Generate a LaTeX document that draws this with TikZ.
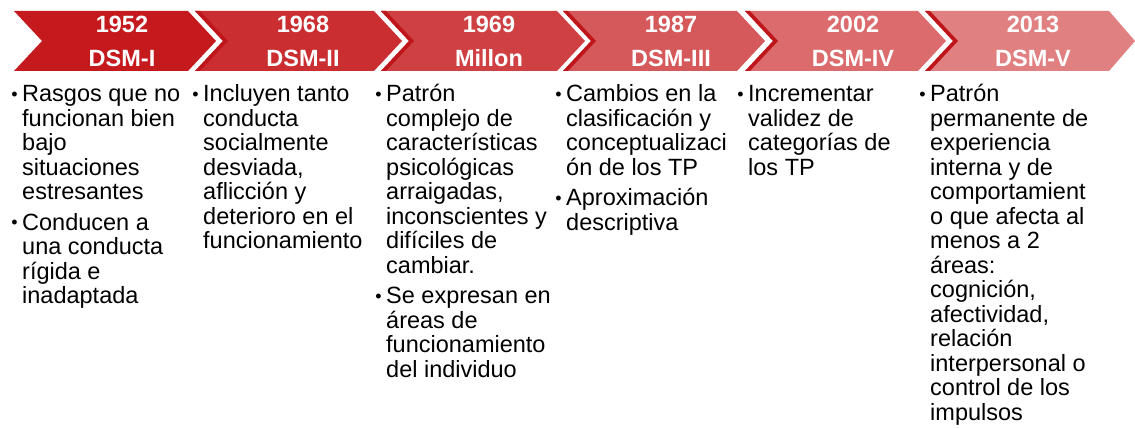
\documentclass[tikz,border=0pt]{standalone}
\usepackage{fontspec}
\setmainfont{Liberation Sans}
\definecolor{c1}{RGB}{196,26,30}
\definecolor{c2}{RGB}{203,46,49}
\definecolor{c3}{RGB}{207,64,67}
\definecolor{c4}{RGB}{213,88,90}
\definecolor{c5}{RGB}{219,107,108}
\definecolor{c6}{RGB}{224,128,129}
\definecolor{band}{RGB}{190,22,27}
\newcommand\bul{\vrule height 20pt depth 0pt width 0pt\llap{\fontsize{18}{18}\selectfont\raisebox{1.5pt}{•}\hspace{4.5pt}}}
\tikzset{
  hdr/.style={text=white, font=\fontsize{23.5}{24}\selectfont\bfseries, inner sep=0pt, anchor=base},
  body/.style={text=black, font=\fontsize{23.5}{24.5}\selectfont, inner sep=0pt, anchor=north west, align=left}
}
\begin{document}
\begin{tikzpicture}[x=1pt,y=-1pt]
\useasboundingbox (0,0) rectangle (1135,428);
\fill[white] (0,0) rectangle (1135,428);
% chevrons
\foreach \s/\e/\c/\d in {14/188/c1/28, 195/374/c2/28, 381/557/c3/28, 563/737/c4/28, 745/918/c5/28, 925/1109/c6/26}{
  \fill[\c] (\s,11) -- (\e,11) -- (\e+\d,41) -- (\e,71) -- (\s,71) -- (\s+28,41) -- cycle;
}
\foreach \s in {195,381,563,745,925}{
  \fill[band] (\s,11) -- (\s+5,11) -- (\s+33,41) -- (\s+5,71) -- (\s,71) -- (\s+28,41) -- cycle;
}
% headers
\node[hdr] (y1) at (122,32.7) {1952};
\node[hdr] (n1) at (122,66.7) {DSM-I};
\node[hdr] (y2) at (303,32.7) {1968};
\node[hdr] (n2) at (303,66.7) {DSM-II};
\node[hdr] (y3) at (489,32.7) {1969};
\node[hdr] (n3) at (489,66.7) {Millon};
\node[hdr] (y4) at (671,32.7) {1987};
\node[hdr] (n4) at (671,66.7) {DSM-III};
\node[hdr] (y5) at (853,32.7) {2002};
\node[hdr] (n5) at (853,66.7) {DSM-IV};
\node[hdr] (y6) at (1033,32.7) {2013};
\node[hdr] (n6) at (1033,66.7) {DSM-V};
% bodies
\node[body] (b1) at (22,81.7) {\bul Rasgos que no\\ funcionan bien\\ bajo\\ situaciones\\ estresantes\\[6pt] \bul Conducen a\\ una conducta\\ rígida e\\ inadaptada};
\node[body] (b2) at (203,81.7) {\bul Incluyen tanto\\ conducta\\ socialmente\\ desviada,\\ aflicción y\\ deterioro en el\\ funcionamiento};
\node[body] (b3) at (386,81.7) {\bul Patrón\\ complejo de\\ características\\ psicológicas\\ arraigadas,\\ inconscientes y\\ difíciles de\\ cambiar.\\[6pt] \bul Se expresan en\\ áreas de\\ funcionamiento\\ del individuo};
\node[body] (b4) at (566,81.7) {\bul Cambios en la\\ clasificación y\\ conceptualizaci\\ ón de los TP\\[6pt] \bul Aproximación\\ descriptiva};
\node[body] (b5) at (748,81.7) {\bul Incrementar\\ validez de\\ categorías de\\ los TP};
\node[body] (b6) at (930,81.7) {\bul Patrón\\ permanente de\\ experiencia\\ interna y de\\ comportamient\\ o que afecta al\\ menos a 2\\ áreas:\\ cognición,\\ afectividad,\\ relación\\ interpersonal o\\ control de los\\ impulsos};
\end{tikzpicture}
\end{document}
